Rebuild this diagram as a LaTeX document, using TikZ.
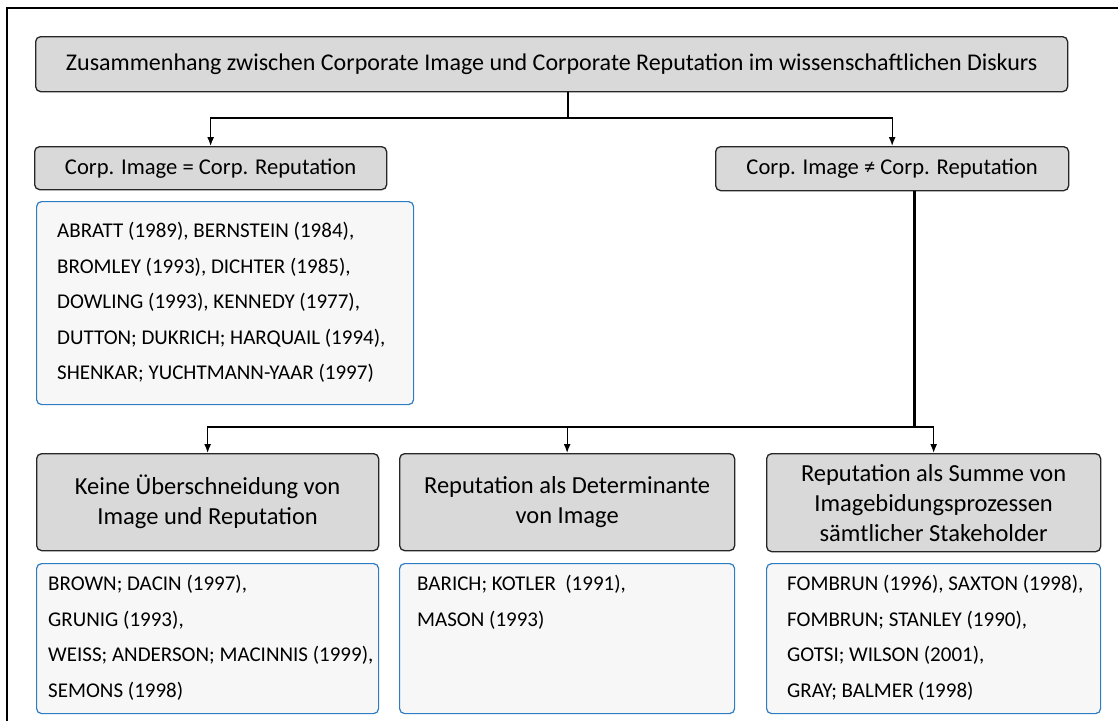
\documentclass[tikz,border=0pt]{standalone}
\usepackage{fontspec}
\setmainfont{Carlito}
\usetikzlibrary{arrows.meta}
\definecolor{boxgray}{HTML}{D9D9D9}
\definecolor{boxline}{HTML}{262626}
\definecolor{listblue}{HTML}{2E7DC4}
\definecolor{listfill}{HTML}{F7F7F7}

\begin{document}
\begin{tikzpicture}[x=1pt, y=-1pt, >={Latex[length=9pt, width=7pt]},
  headbox/.style={draw=boxline, fill=boxgray, line width=1.3pt, rounded corners=5pt,
    anchor=north west, align=center, inner sep=0pt},
  listbox/.style={draw=listblue, fill=listfill, line width=1.2pt, rounded corners=5pt,
    anchor=north west, inner sep=0pt},
  listtext/.style={anchor=north west, align=left, inner sep=0pt,
    font=\fontsize{21}{35.5}\selectfont},
  link/.style={line width=1.3pt, ->}]
  \useasboundingbox (0,0) rectangle (1118,721);
  % outer frame (only top and left edge visible)
  \draw[line width=2pt] (7,721) -- (7,8) -- (1118,8);
  % top level
  \node[headbox, minimum width=1032, minimum height=55, font=\fontsize{24}{28}\selectfont] (discourse) at (35,36)
    {Zusammenhang zwischen Corporate Image und Corporate Reputation im wissenschaftlichen Diskurs};
  % second level
  \node[headbox, minimum width=352, minimum height=43, font=\fontsize{22.6}{26}\selectfont] (same) at (34,146)
    {Corp. Image = Corp. Reputation};
  \node[headbox, minimum width=353, minimum height=44, font=\fontsize{22.6}{26}\selectfont] (differ) at (715,146)
    {Corp. Image ≠ Corp. Reputation};
  \node[listbox, minimum width=377, minimum height=203] (samelist) at (36,201) {};
  \node[listtext] (samelisttext) at (57,222)
    {ABRATT (1989), BERNSTEIN (1984),\\ BROMLEY (1993), DICHTER (1985),\\ DOWLING (1993), KENNEDY (1977),\\
     DUTTON; DUKRICH; HARQUAIL (1994),\\ SHENKAR; YUCHTMANN-YAAR (1997)};
  % third level
  \node[headbox, minimum width=342, minimum height=97, font=\fontsize{24.5}{30}\selectfont] (keine) at (36,453)
    {Keine Überschneidung von\\ Image und Reputation};
  \node[headbox, minimum width=335, minimum height=97, font=\fontsize{24.5}{30}\selectfont] (determ) at (399,453)
    {Reputation als Determinante\\ von Image};
  \node[headbox, minimum width=334, minimum height=98, font=\fontsize{24.5}{30}\selectfont] (summe) at (766,453)
    {Reputation als Summe von\\ Imagebidungsprozessen\\ sämtlicher Stakeholder};
  \node[listbox, minimum width=342, minimum height=150] (keinelist) at (36,563) {};
  \node[listbox, minimum width=335, minimum height=150] (determlist) at (399,563) {};
  \node[listbox, minimum width=334, minimum height=150] (summelist) at (766,563) {};
  \node[listtext] (keinelisttext) at (48,575)
    {BROWN; DACIN (1997),\\ GRUNIG (1993),\\ WEISS; ANDERSON; MACINNIS (1999),\\ SEMONS (1998)};
  \node[listtext] (determlisttext) at (417,575)
    {BARICH; KOTLER~ (1991),\\ MASON (1993)};
  \node[listtext] (summelisttext) at (787,575)
    {FOMBRUN (1996), SAXTON (1998),\\ FOMBRUN; STANLEY (1990),\\ GOTSI; WILSON (2001),\\ GRAY; BALMER (1998)};
  % connectors
  \coordinate (split1) at (568,118);
  \draw[line width=1.3pt] (discourse.south -| split1) -- (split1);
  \draw[link] (split1) -| (same.north);
  \draw[link] (split1) -| (differ.north);
  \coordinate (split2) at (914,427);
  \draw[line width=3pt] (differ.south -| split2) -- (split2);
  \draw[link] (split2) -| (keine.north);
  \draw[link] (split2) -| (summe.north);
  \draw[link] (determ.north |- split2) -- (determ.north);
\end{tikzpicture}
\end{document}
